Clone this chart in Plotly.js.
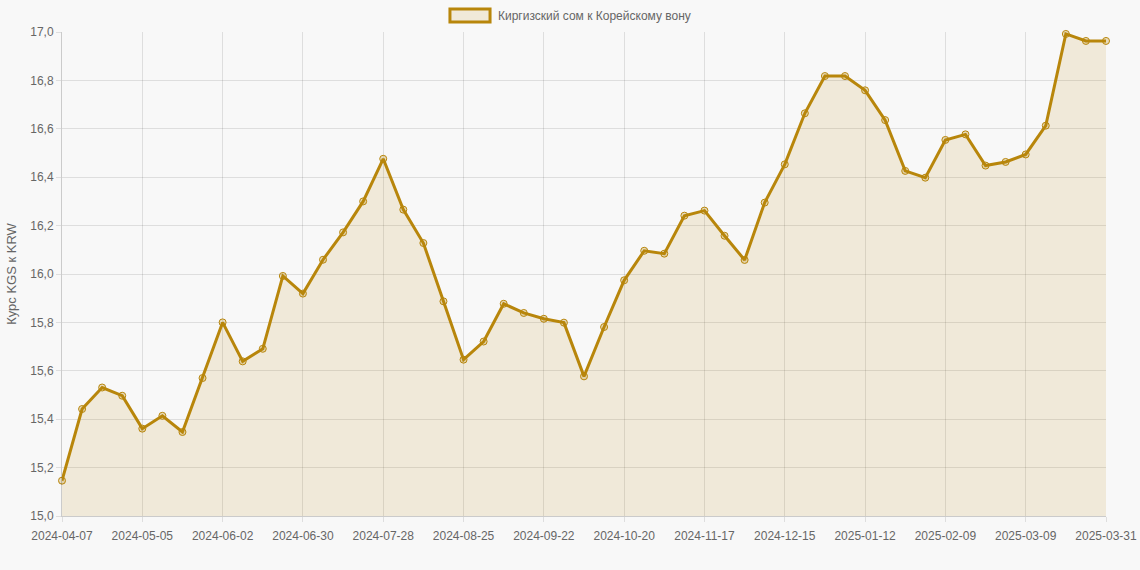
<!DOCTYPE html>
<html>
<head>
<meta charset="utf-8">
<script src="https://cdn.plot.ly/plotly-3.0.1.min.js"></script>
<style>
html,body{margin:0;padding:0;background:#f8f8f8;}
#chart{width:1140px;height:570px;}
</style>
</head>
<body>
<div id="chart"></div>
<script>
const dates = [
"2024-04-07","2024-04-14","2024-04-21","2024-04-28","2024-05-05","2024-05-12","2024-05-19","2024-05-26",
"2024-06-02","2024-06-09","2024-06-16","2024-06-23","2024-06-30","2024-07-07","2024-07-14","2024-07-21",
"2024-07-28","2024-08-04","2024-08-11","2024-08-18","2024-08-25","2024-09-01","2024-09-08","2024-09-15",
"2024-09-22","2024-09-29","2024-10-06","2024-10-13","2024-10-20","2024-10-27","2024-11-03","2024-11-10",
"2024-11-17","2024-11-24","2024-12-01","2024-12-08","2024-12-15","2024-12-22","2024-12-29","2025-01-05",
"2025-01-12","2025-01-19","2025-01-26","2025-02-02","2025-02-09","2025-02-16","2025-02-23","2025-03-02",
"2025-03-09","2025-03-16","2025-03-23","2025-03-30","2025-03-31"
];
const rates = [
15.146,15.442,15.531,15.497,15.361,15.414,15.347,15.570,
15.800,15.639,15.691,15.992,15.919,16.059,16.172,16.300,
16.476,16.266,16.128,15.887,15.646,15.721,15.877,15.839,
15.815,15.799,15.577,15.781,15.974,16.096,16.084,16.241,
16.262,16.158,16.058,16.295,16.453,16.664,16.818,16.818,
16.759,16.636,16.426,16.398,16.554,16.577,16.448,16.463,
16.494,16.613,16.992,16.963,16.963
];
const tickDates = ["2024-04-07","2024-05-05","2024-06-02","2024-06-30","2024-07-28","2024-08-25","2024-09-22",
"2024-10-20","2024-11-17","2024-12-15","2025-01-12","2025-02-09","2025-03-09","2025-03-31"];
const seriesName = "Киргизский сом к Корейскому вону";
const yTitle = "Курс KGS к KRW";

const gold = "#b8860b";
const grid = "rgba(0,0,0,0.1)";
const font = {family: "Liberation Sans, Arial, sans-serif", size: 12, color: "#666"};

const trace = {
  type: "scatter",
  mode: "lines+markers",
  x: dates,
  y: rates,
  name: seriesName,
  fill: "tozeroy",
  fillcolor: "rgba(184,134,11,0.13)",
  line: {color: gold, width: 3},
  marker: {symbol: "circle", size: 7, color: "rgba(184,134,11,0.25)", line: {color: gold, width: 1}},
  cliponaxis: false,
  showlegend: false,
  hoverinfo: "x+y"
};

const layout = {
  width: 1140, height: 570,
  paper_bgcolor: "#f8f8f8",
  plot_bgcolor: "#f8f8f8",
  font: font,
  separators: ", ",
  margin: {l: 62, r: 34, t: 32, b: 54},
  xaxis: {
    type: "category",
    range: [0, dates.length - 1],
    tickmode: "array",
    tickvals: tickDates,
    ticktext: tickDates,
    showgrid: true, gridcolor: grid, gridwidth: 1,
    ticks: "outside", ticklen: 5, tickcolor: grid,
    ticklabelstandoff: 4,
    showline: true, linecolor: "rgba(0,0,0,0.18)", linewidth: 1,
    zeroline: false,
    tickangle: 0,
    tickfont: font
  },
  yaxis: {
    range: [15, 17],
    dtick: 0.2, tick0: 15,
    tickformat: ".1f",
    showgrid: true, gridcolor: grid, gridwidth: 1,
    ticks: "outside", ticklen: 5, tickcolor: grid,
    showline: true, linecolor: "rgba(0,0,0,0.18)", linewidth: 1,
    zeroline: false,
    tickfont: font,
    title: {text: yTitle, font: {family: font.family, size: 13, color: "#666"}, standoff: 10}
  },
  shapes: [{
    type: "rect", xref: "paper", yref: "paper",
    x0: 0.3716, x1: 0.4100, y0: 1.0207, y1: 1.0475,
    line: {color: gold, width: 3},
    fillcolor: "rgba(184,134,11,0.13)"
  }],
  annotations: [{
    xref: "paper", yref: "paper",
    x: 0.4157, y: 1.034,
    xanchor: "left", yanchor: "middle",
    text: seriesName, showarrow: false,
    font: font
  }]
};

Plotly.newPlot("chart", [trace], layout, {displayModeBar: false, responsive: false});
</script>
</body>
</html>
